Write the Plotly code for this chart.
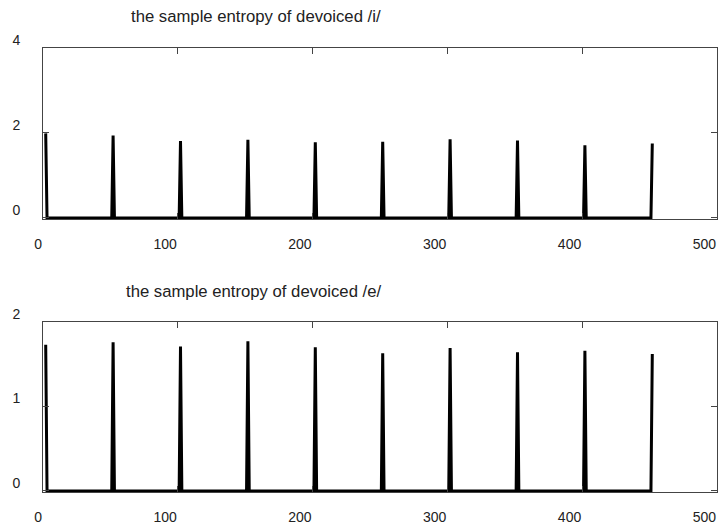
import plotly.graph_objects as go

# ---- data ----
peak_positions = [2, 52, 102, 152, 202, 252, 302, 352, 402, 452]
peaks_i = [1.99, 1.94, 1.81, 1.84, 1.78, 1.79, 1.85, 1.82, 1.71, 1.75]
peaks_e = [1.73, 1.76, 1.71, 1.77, 1.70, 1.63, 1.69, 1.64, 1.66, 1.62]
x_start, x_end = 2, 452

x_ticks = [0, 100, 200, 300, 400, 500]
x_tick_labels = ["0", "100", "200", "300", "400", "500"]
y_ticks_i = [0, 2, 4]
y_ticks_e = [0, 1, 2]
title_i = "the sample entropy of devoiced /i/"
title_e = "the sample entropy of devoiced /e/"


def spike_series(positions, heights):
    xs, ys = [], []
    for p, h in zip(positions, heights):
        for xx, yy in ((p - 1, 0.0), (p, h), (p + 1, 0.0)):
            if x_start <= xx <= x_end:
                xs.append(xx)
                ys.append(yy)
    return xs, ys


xi, yi = spike_series(peak_positions, peaks_i)
xe, ye = spike_series(peak_positions, peaks_e)

FONT = "Liberation Sans, Arial, sans-serif"
FS = 14
AXC = "#444444"

fig = go.Figure()
fig.add_trace(go.Scatter(x=xi, y=yi, mode="lines", line=dict(color="black", width=3),
                         xaxis="x", yaxis="y", showlegend=False, hoverinfo="skip"))
fig.add_trace(go.Scatter(x=xe, y=ye, mode="lines", line=dict(color="black", width=3),
                         xaxis="x2", yaxis="y2", showlegend=False, hoverinfo="skip"))

common_x = dict(range=[0, 500], tickmode="array", tickvals=x_ticks, ticktext=x_tick_labels,
                ticks="inside", ticklen=6, tickcolor=AXC, showline=True, linecolor=AXC,
                linewidth=1, mirror="ticks", showgrid=False, zeroline=False,
                ticklabelposition="outside left", ticklabeloverflow="allow", automargin=False,
                tickfont=dict(family=FONT, size=FS, color="#222"), ticklabelstandoff=12)
common_y = dict(ticks="inside", ticklen=6, tickcolor=AXC, showline=True, linecolor=AXC,
                linewidth=1, mirror="ticks", showgrid=False, zeroline=False,
                automargin=False,
                tickfont=dict(family=FONT, size=FS, color="#222"),
                ticklabelstandoff=19, ticklabelshift=-8, tickmode="array")

fig.update_layout(
    width=722, height=527,
    margin=dict(l=43, r=5, t=48, b=35, autoexpand=False),
    plot_bgcolor="white", paper_bgcolor="white",
    xaxis=dict(domain=[0, 1], anchor="y", **common_x),
    yaxis=dict(domain=[0.615, 1.0], anchor="x", range=[-0.025, 4], tickvals=y_ticks_i,
               ticktext=[str(v) for v in y_ticks_i], **common_y),
    xaxis2=dict(domain=[0, 1], anchor="y2", **common_x),
    yaxis2=dict(domain=[0.0, 0.383], anchor="x2", range=[-0.0125, 2], tickvals=y_ticks_e,
                ticktext=[str(v) for v in y_ticks_e], **common_y),
    annotations=[
        dict(text=title_i, x=0.316, y=1.072, xref="paper", yref="paper",
             xanchor="center", yanchor="middle", showarrow=False,
             font=dict(family=FONT, size=16.7, color="#222")),
        dict(text=title_e, x=0.313, y=0.4527, xref="paper", yref="paper",
             xanchor="center", yanchor="middle", showarrow=False,
             font=dict(family=FONT, size=16.7, color="#222")),
    ],
)

fig.write_html("out.html")
